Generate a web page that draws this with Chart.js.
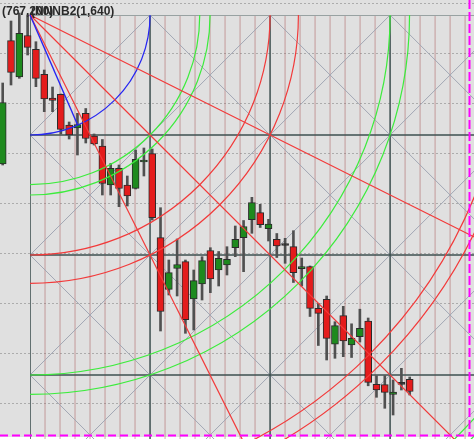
<!DOCTYPE html>
<html>
<head>
<meta charset="utf-8">
<script src="https://cdn.jsdelivr.net/npm/chart.js@4.4.0/dist/chart.umd.min.js"></script>
<style>
html, body { margin: 0; padding: 0; background: #ffffff; }
canvas { display: block; }
</style>
</head>
<body>
<canvas id="gann-chart" width="474" height="439"></canvas>
<script>
// daily candles (arbitrary price units)
const opens = [689, 812.3, 776, 817.5, 803.7, 778.7, 755, 758.7, 728, 725, 739.7, 717, 707, 668, 684.7, 668, 664.7, 691, 699.3, 615.3,
    563.7, 584.5, 591.3, 554, 569, 602.5, 583, 588, 605.3, 615.3, 633.3, 640.3, 624.3, 613.7, 607.5, 606.3, 584.3, 586.3, 544.7, 553.7,
    508.8, 537.3, 508, 516.3, 532, 468.7, 468.3, 458.7, 468.7, 473.7];
const highs = [770, 832, 840, 838, 811.3, 783, 766, 759, 731, 739.7, 744.5, 719, 713.5, 689.5, 688, 677, 703, 705, 704, 645.3,
    593, 614, 593, 583, 596.3, 605.3, 601.5, 606.3, 627, 632.5, 655.7, 648.7, 633.7, 619.5, 614.7, 622.3, 595, 587, 549.5, 557,
    531.3, 546.7, 529.2, 543.8, 535, 477.3, 477.3, 473, 484.7, 476];
const lows = [688, 768, 774.7, 798, 766.3, 741.3, 741.3, 719, 714, 698, 710, 708, 658, 658, 646.3, 647, 664, 677, 633, 522,
    558, 557, 519.7, 523, 553, 560.3, 567, 578, 596.3, 581.3, 619.7, 625.5, 612, 595.5, 589.7, 570.5, 567, 536.5, 507.5, 493,
    494.7, 496.3, 495.5, 511, 467.2, 455.7, 444.7, 438, 463, 458];
const closes = [750.5, 780.7, 819.7, 805.7, 774.7, 754, 752.7, 723.7, 718, 728.5, 714.5, 709, 669.5, 684.7, 664.5, 657, 693.7, 693, 635.3, 541.5,
    580.3, 588.5, 533.3, 572.3, 592.3, 574.2, 594.7, 593.7, 613.7, 626.5, 650.3, 628.3, 629, 607, 607.5, 580.3, 586.3, 544.7, 539.7, 514.7,
    527.3, 512, 514.7, 524.7, 470.7, 463, 460.7, 460.8, 468.7, 461.5];

// visible window
const xMin = -0.325;
const xMax = 56.74;
const yMin = 414;
const yMax = 853;
const priceGrid = [450, 500, 550, 600, 650, 700, 750, 800, 850];

// gann box: anchor, one square, arcs (in squares) and fan ratios
const gannStartBar = 3.29;
const gannStartPrice = 838;
const gannCellBars = 14.45;
const gannCellPrice = 120;
const gannSubdiv = 8;
const arcRadii = [1, 1.414, 1.5, 2, 2.236, 3, 3.162, 4, 4.123, 5, 5.099];
const arcColors = ['#2626f2', '#3cec3c', '#3cec3c', '#f23a3a', '#f23a3a', '#3cec3c', '#3cec3c', '#f23a3a', '#f23a3a', '#3cec3c', '#3cec3c'];
const fanRatios = [[2, 1], [1, 1], [1, 2]];
const trendStart = [3.29, 838];
const trendEnd = [9, 728.5];

// vertical / horizontal markers
const markerBar = 56.2;
const markerPrice = 417.5;
const labelTexts = ['(767,200)', '(NNNB2(1,640)'];

const RED = '#e41c1c';
const GREEN = '#1e8a1e';
const EDGE = '#2b2b2b';

const bars = opens.map((o, i) => i);
const bodyColors = bars.map((i) => {
    if (closes[i] > opens[i]) return GREEN;
    if (closes[i] < opens[i]) return RED;
    return EDGE;
});

const gannGeometry = (chart) => {
    const xs = chart.scales.x;
    const ys = chart.scales.y;
    const cx = xs.getPixelForValue(gannStartBar);
    const cy = ys.getPixelForValue(gannStartPrice);
    const cw = xs.getPixelForValue(gannStartBar + gannCellBars) - cx;
    const ch = ys.getPixelForValue(gannStartPrice - gannCellPrice) - cy;
    return { xs, ys, cx, cy, cw, ch };
};

const line = (ctx, x1, y1, x2, y2) => {
    ctx.beginPath();
    ctx.moveTo(x1, y1);
    ctx.lineTo(x2, y2);
    ctx.stroke();
};

const gannPlugin = {
    id: 'gann',
    beforeDraw(chart) {
        const { ctx, width, height } = chart;
        const { ys } = gannGeometry(chart);
        const bottom = ys.getPixelForValue(markerPrice) + 1.5;
        ctx.save();
        ctx.fillStyle = '#e0e0e0';
        ctx.fillRect(0, 0, width, bottom);
        ctx.fillStyle = '#ffffff';
        ctx.fillRect(0, bottom, width, height - bottom);
        ctx.restore();
    },
    beforeDatasetsDraw(chart) {
        const { ctx, width, height } = chart;
        const { ys, cx, cy, cw, ch } = gannGeometry(chart);
        ctx.save();

        // price grid
        ctx.strokeStyle = '#acacac';
        ctx.lineWidth = 1;
        ctx.setLineDash([2, 2]);
        priceGrid.forEach((p) => {
            const y = Math.round(ys.getPixelForValue(p)) + 0.5;
            line(ctx, 0, y, width, y);
        });
        ctx.setLineDash([]);

        // time subdivisions
        ctx.strokeStyle = 'rgba(170, 90, 90, 0.35)';
        ctx.lineWidth = 1.5;
        for (let k = 1; cx + (k * cw) / gannSubdiv < width; k++) {
            if (k % gannSubdiv === 0) continue;
            const x = cx + (k * cw) / gannSubdiv;
            line(ctx, x, cy, x, height);
        }

        // diagonals of every square
        ctx.beginPath();
        ctx.rect(cx, cy, width - cx, height - cy);
        ctx.clip();
        ctx.strokeStyle = '#a2a7b4';
        ctx.lineWidth = 1;
        for (let i = 0; cx + i * cw < width; i++) {
            for (let j = 0; cy + j * ch < height; j++) {
                const x0 = cx + i * cw;
                const y0 = cy + j * ch;
                line(ctx, x0, y0, x0 + cw, y0 + ch);
                line(ctx, x0 + cw, y0, x0, y0 + ch);
            }
        }

        // square lines
        ctx.strokeStyle = '#3e5050';
        ctx.lineWidth = 1.5;
        for (let i = 0; cx + i * cw < width; i++) {
            line(ctx, cx + i * cw, cy, cx + i * cw, height);
        }
        for (let j = 1; cy + j * ch < height; j++) {
            line(ctx, cx, cy + j * ch, width, cy + j * ch);
        }
        ctx.strokeStyle = '#98a2a2';
        ctx.lineWidth = 2;
        line(ctx, cx, cy, width, cy);
        ctx.restore();
    },
    afterDatasetsDraw(chart) {
        const { ctx, width, height } = chart;
        const { xs, ys, cx, cy, cw, ch } = gannGeometry(chart);
        ctx.save();
        ctx.beginPath();
        ctx.rect(0, 0, width, height);
        ctx.clip();
        ctx.lineWidth = 1.2;

        arcRadii.forEach((r, i) => {
            ctx.strokeStyle = arcColors[i];
            ctx.beginPath();
            ctx.ellipse(cx, cy, r * cw, r * ch, 0, 0, Math.PI / 2);
            ctx.stroke();
        });

        ctx.strokeStyle = '#f23a3a';
        fanRatios.forEach(([bx, py]) => {
            line(ctx, cx, cy, cx + bx * cw * 10, cy + py * ch * 10);
        });

        ctx.strokeStyle = '#2626f2';
        ctx.lineWidth = 1.4;
        line(ctx, xs.getPixelForValue(trendStart[0]), ys.getPixelForValue(trendStart[1]),
            xs.getPixelForValue(trendEnd[0]), ys.getPixelForValue(trendEnd[1]));

        // markers
        ctx.strokeStyle = '#ff00ff';
        ctx.lineWidth = 2;
        const my = ys.getPixelForValue(markerPrice);
        const mx = xs.getPixelForValue(markerBar);
        ctx.setLineDash([8, 4]);
        line(ctx, 0, my, width, my);
        ctx.setLineDash([9, 3]);
        line(ctx, mx, 0, mx, my);
        ctx.setLineDash([]);

        ctx.fillStyle = '#2a2a2a';
        ctx.font = 'bold 12px "Liberation Sans", Arial, sans-serif';
        ctx.textBaseline = 'alphabetic';
        ctx.fillText(labelTexts[0], 2, 15);
        ctx.fillText(labelTexts[1], 31, 15);
        ctx.restore();
    },
};

new Chart(document.getElementById('gann-chart'), {
    type: 'bar',
    data: {
        datasets: [
            {
                label: 'Body',
                data: bars.map((i) => ({ x: i, y: [opens[i], closes[i]] })),
                backgroundColor: bodyColors,
                borderColor: EDGE,
                borderWidth: 1,
                borderSkipped: false,
                barThickness: 7,
                minBarLength: 2,
                grouped: false,
                order: 0,
            },
            {
                label: 'Wick',
                data: bars.map((i) => ({ x: i, y: [lows[i], highs[i]] })),
                backgroundColor: '#505050',
                borderWidth: 0,
                barThickness: 2,
                grouped: false,
                order: 1,
            },
        ],
    },
    options: {
        responsive: false,
        animation: false,
        devicePixelRatio: 1,
        layout: { padding: 0 },
        plugins: {
            legend: { display: false },
            tooltip: { enabled: false },
        },
        scales: {
            x: { type: 'linear', min: xMin, max: xMax, offset: false, display: false },
            y: { type: 'linear', min: yMin, max: yMax, display: false },
        },
    },
    plugins: [gannPlugin],
});
</script>
</body>
</html>
